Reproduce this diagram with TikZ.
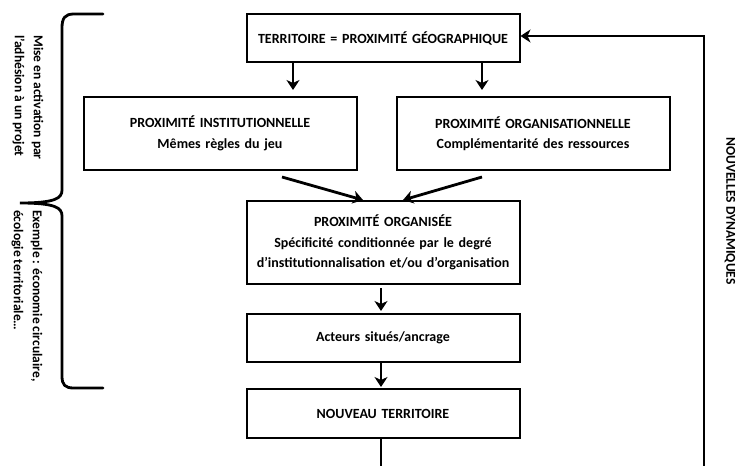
\documentclass[tikz,border=0pt]{standalone}
\usepackage{fontspec}
\setmainfont{Carlito}
\usetikzlibrary{arrows.meta, positioning}

\begin{document}
\begin{tikzpicture}[
    x=1pt, y=1pt,
    box/.style={rectangle, draw, line width=2pt, text width=259pt, inner sep=7pt, text centered, minimum height=48pt, font=\fontsize{14}{20.5}\selectfont\bfseries},
    side/.style={rotate=-90, anchor=west, align=left, inner sep=0pt, font=\fontsize{13.5}{19}\selectfont\bfseries},
    arrow/.style={-{Stealth[length=10pt, width=13pt, inset=3pt]}, line width=2.8pt},
    link/.style={line width=2.8pt},
    bracket/.style={line width=2.8pt, line cap=round}
]
\useasboundingbox (0,0) rectangle (737,-466);

% Territory
\node[box] (terr) at (383,-38) {TERRITOIRE = PROXIMITÉ GÉOGRAPHIQUE};

% Institutional and organisational proximity
\node[box, minimum height=73pt, below=33pt of terr, xshift=-163pt] (inst) {PROXIMITÉ INSTITUTIONNELLE\\ Mêmes règles du jeu};
\node[box, minimum height=73pt, below=33pt of terr, xshift=150pt] (orga) {PROXIMITÉ ORGANISATIONNELLE\\ Complémentarité des ressources};

% Organised proximity
\node[box, minimum height=83pt, below=137pt of terr] (orgd) {PROXIMITÉ ORGANISÉE\\ Spécificité conditionnée par le degré\\ d’institutionnalisation et/ou d’organisation};

% Actors and new territory
\node[box, below=28pt of orgd] (act) {Acteurs situés/ancrage};
\node[box, minimum height=49pt, below=25pt of act] (nouv) {NOUVEAU TERRITOIRE};

% Side texts
\node[side, anchor=center] (dyn) at (730,-211) {NOUVELLES DYNAMIQUES};
\node[side] (mise) at (28,-35) {Mise en activation par\\ l’adhésion à un projet};
\node[side] (exem) at (27,-210) {Exemple : économie circulaire,\\ écologie territoriale…};

% Brace
\draw[bracket] (103,-14) -- (74,-14) .. controls (65,-14) and (62,-18) .. (62,-28) -- (62,-190)
    .. controls (62,-198) and (56,-203) .. (20,-203)
    .. controls (56,-203) and (62,-208) .. (62,-216) -- (62,-376)
    .. controls (62,-385) and (65,-388) .. (74,-388) -- (103,-388);

% Loop ends
\coordinate (bottom) at (0,-466);
\coordinate (loopbase) at (704,-466);

% Arrows
\draw[arrow, shorten >=6pt] ([xshift=-90pt]terr.south) -- ([xshift=-90pt]terr.south |- inst.north);
\draw[arrow, shorten >=6pt] ([xshift=99pt]terr.south) -- ([xshift=99pt]terr.south |- orga.north);
\draw[arrow] ([shift={(62,-6)}]inst.south) -- ([xshift=-20pt]orgd.north);
\draw[arrow] ([shift={(-51,-6)}]orga.south) -- ([xshift=20pt]orgd.north);
\draw[arrow, shorten <=3pt, shorten >=2pt] ([xshift=-2pt]orgd.south) -- ([xshift=-2pt]orgd.south |- act.north);
\draw[arrow, shorten >=1pt] ([xshift=-2pt]act.south) -- ([xshift=-2pt]act.south |- nouv.north);
\draw[link] ([xshift=-2pt]nouv.south) -- ([xshift=-2pt]nouv.south |- bottom);
\draw[arrow] (loopbase) |- ([yshift=2pt]terr.east);

\end{tikzpicture}
\end{document}
